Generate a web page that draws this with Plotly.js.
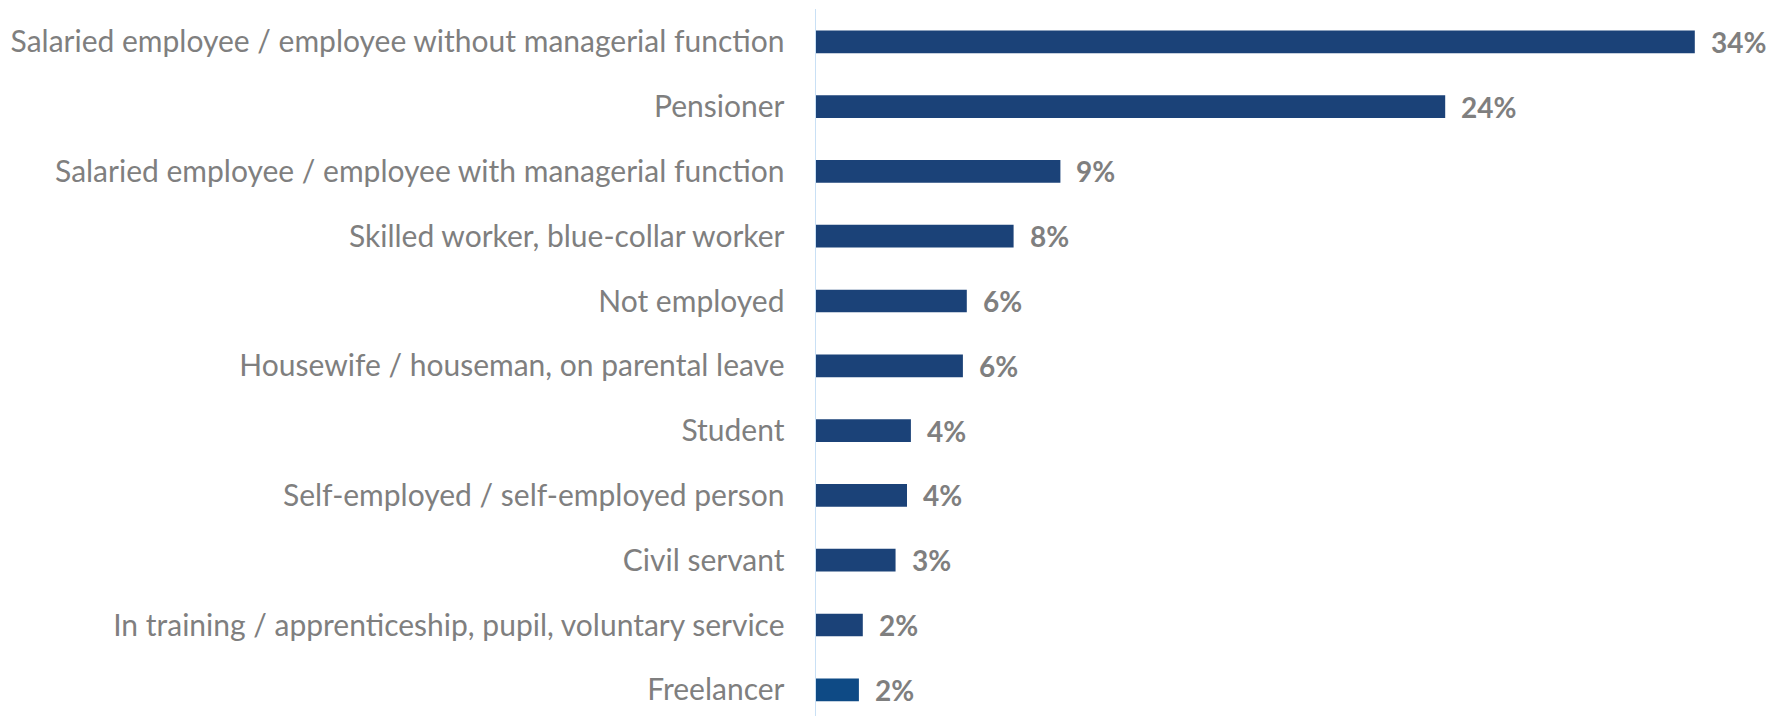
<!DOCTYPE html>
<html>
<head>
<meta charset="utf-8">
<script src="https://cdn.plot.ly/plotly-3.0.1.min.js"></script>
<style>html,body{margin:0;padding:0;background:#fff;}#chart{width:1770px;height:716px;}</style>
</head>
<body>
<div id="chart"></div>
<script>
const categories = [
  "Salaried employee / employee without managerial function",
  "Pensioner",
  "Salaried employee / employee with managerial function",
  "Skilled worker, blue-collar worker",
  "Not employed",
  "Housewife / houseman, on parental leave",
  "Student",
  "Self-employed / self-employed person",
  "Civil servant",
  "In training / apprenticeship, pupil, voluntary service",
  "Freelancer"
];
const values = [33.8, 24.2, 9.4, 7.6, 5.8, 5.65, 3.65, 3.5, 3.06, 1.8, 1.65];
const valueLabels = ["34%", "24%", "9%", "8%", "6%", "6%", "4%", "4%", "3%", "2%", "2%"];
const barColors = ["#1b4278","#1b4278","#1b4278","#1b4278","#1b4278","#1b4278","#1b4278","#1b4278","#1b4278","#1b4278","#0e4a85"];

const FONT = "Lato, 'Open Sans', sans-serif";

const trace = {
  type: 'bar',
  orientation: 'h',
  x: values,
  y: categories,
  width: 0.35,
  marker: {color: barColors, line: {width: 0}},
  hoverinfo: 'skip'
};

const annotations = values.map((v, i) => ({
  x: v, y: categories[i], xref: 'x', yref: 'y',
  text: valueLabels[i], showarrow: false,
  xanchor: 'left', yanchor: 'middle', xshift: 14,
  font: {family: FONT, size: 28, color: '#7f7f7f', weight: 'bold'}
}));

const layout = {
  width: 1770, height: 716,
  margin: {l: 816, r: 18, t: 9, b: 0, pad: 0},
  paper_bgcolor: '#ffffff', plot_bgcolor: '#ffffff',
  showlegend: false,
  xaxis: {range: [0, 36], visible: false, fixedrange: true},
  yaxis: {
    type: 'category',
    categoryorder: 'array', categoryarray: categories,
    range: [10.404, -0.506],
    showline: true, linecolor: '#c9e0f5', linewidth: 1.5,
    showgrid: false, zeroline: false,
    ticks: '', ticklabelstandoff: 24,
    tickfont: {family: FONT, size: 30, color: '#7f7f7f'},
    automargin: false
  },
  annotations: annotations
};

Plotly.newPlot('chart', [trace], layout, {displayModeBar: false, staticPlot: true});
</script>
</body>
</html>
